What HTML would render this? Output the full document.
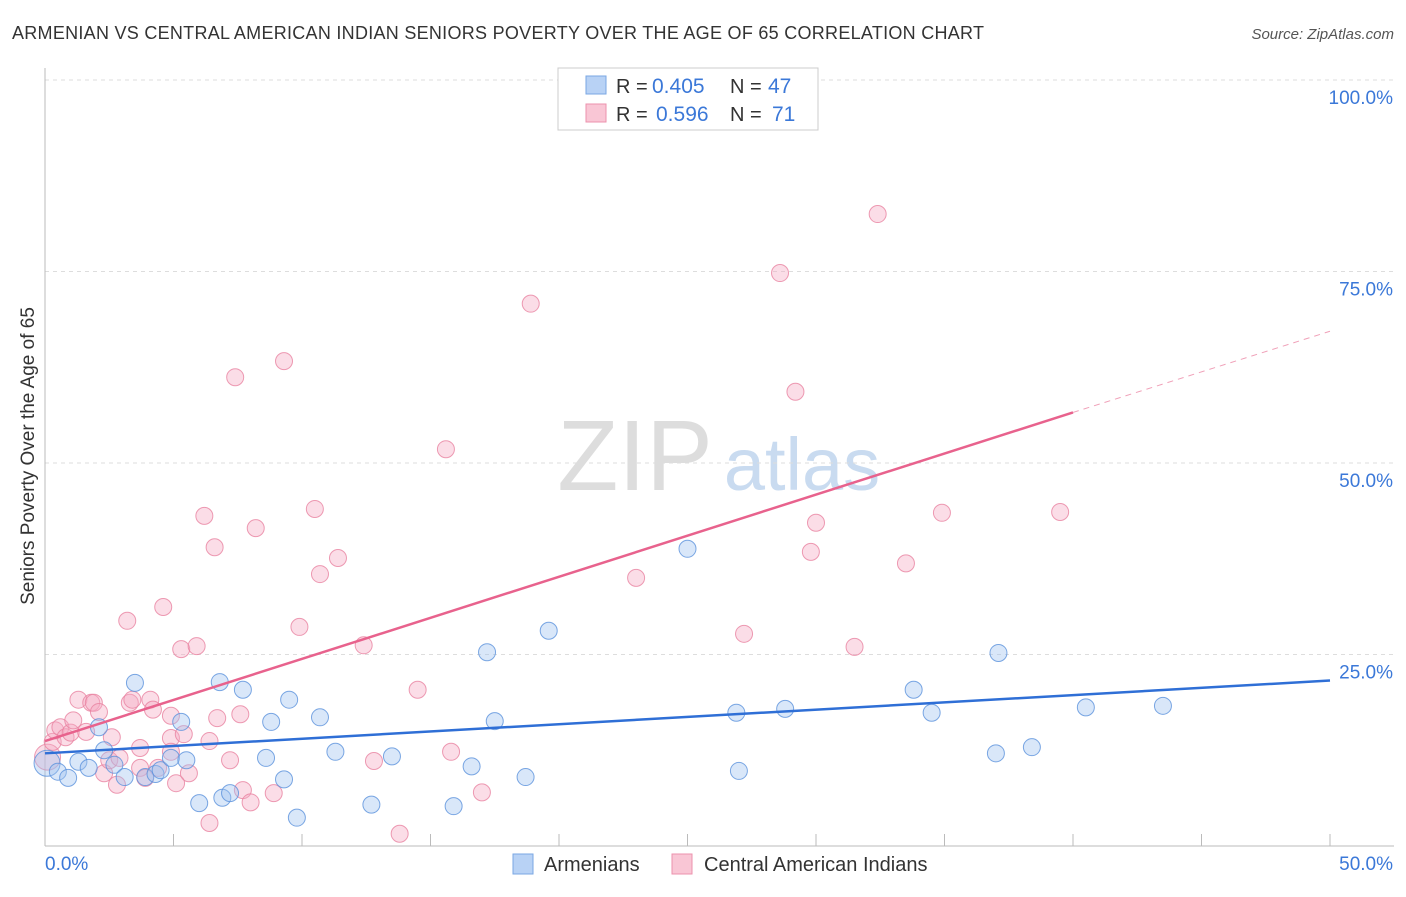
<!DOCTYPE html>
<html><head><meta charset="utf-8"><style>
body{margin:0;background:#fff;font-family:"Liberation Sans",sans-serif;}
svg text{font-family:"Liberation Sans",sans-serif;}
</style></head><body>
<svg id="chart" width="1406" height="892" xmlns="http://www.w3.org/2000/svg">
<text x="12" y="39" font-size="18" fill="#333" textLength="972" lengthAdjust="spacing">ARMENIAN VS CENTRAL AMERICAN INDIAN SENIORS POVERTY OVER THE AGE OF 65 CORRELATION CHART</text>
<text x="1394" y="39" font-size="15" fill="#555" text-anchor="end" font-style="italic">Source: ZipAtlas.com</text>
<text x="0" y="0" font-size="19" fill="#333" text-anchor="middle" transform="translate(34,456) rotate(-90)">Seniors Poverty Over the Age of 65</text>
<g><text x="635" y="490" font-size="100" fill="#ddd" font-family="Liberation Serif" text-anchor="middle">ZIP</text><text x="802" y="490" font-size="74" fill="#c9dbf0" text-anchor="middle">atlas</text></g>
<g id="grid"></g><g id="axes"></g><g id="pts"></g><g id="lines"></g>
<g>
<rect x="558" y="68" width="260" height="62" fill="#fff" stroke="#ccc"/>
<rect x="586" y="76" width="20" height="18" fill="#b8d2f5" stroke="#7aa7e3"/>
<text x="616" y="93" font-size="20" fill="#333">R =</text><text x="652" y="93" font-size="21" fill="#3b78d8">0.405</text>
<text x="730" y="93" font-size="20" fill="#333">N =</text><text x="768" y="93" font-size="21" fill="#3b78d8">47</text>
<rect x="586" y="104" width="20" height="18" fill="#f9c6d5" stroke="#ec92ad"/>
<text x="616" y="121" font-size="20" fill="#333">R =</text><text x="656" y="121" font-size="21" fill="#3b78d8">0.596</text>
<text x="730" y="121" font-size="20" fill="#333">N =</text><text x="772" y="121" font-size="21" fill="#3b78d8">71</text>
</g>
<g>
<rect x="513" y="854" width="20" height="20" fill="#b8d2f5" stroke="#7aa7e3"/>
<text x="544" y="871" font-size="20" fill="#333">Armenians</text>
<rect x="672" y="854" width="20" height="20" fill="#f9c6d5" stroke="#ec92ad"/>
<text x="704" y="871" font-size="20" fill="#333">Central American Indians</text>
</g>
</svg>
<script>
const xTicks=[0,5,10,15,20,25,30,35,40,45,50];
const yTicks=[25,50,75,100];
const yTickLabels=["25.0%","50.0%","75.0%","100.0%"];
const blueX=[0.08,0.5,0.9,1.3,1.7,2.1,2.3,2.7,3.1,3.5,3.9,4.3,4.5,4.9,5.3,5.5,6.0,6.9,6.8,7.2,7.7,8.6,8.8,9.3,9.5,9.8,10.7,11.3,12.7,13.5,15.9,16.6,17.2,17.5,18.7,19.6,25.0,26.9,27.0,28.8,33.8,34.5,37.0,37.1,38.4,40.5,43.5];
const blueY=[10.8,9.7,8.9,11.0,10.2,15.5,12.5,10.6,9.0,21.3,9.0,9.4,9.9,11.5,16.2,11.2,5.6,6.3,21.4,6.9,20.4,11.5,16.2,8.7,19.1,3.7,16.8,12.3,5.4,11.7,5.2,10.4,25.3,16.3,9.0,28.1,38.8,17.4,9.8,17.9,20.4,17.4,12.1,25.2,12.9,18.1,18.3];
const pinkX=[0.1,0.3,0.4,0.6,0.8,1.0,1.1,1.3,1.6,1.8,1.9,2.1,2.3,2.5,2.6,2.8,2.9,3.2,3.3,3.4,3.7,3.7,4.1,4.2,4.4,4.6,4.9,4.9,5.1,5.3,5.4,5.6,5.9,6.2,6.4,6.4,6.6,6.7,7.2,7.4,7.6,7.7,8.0,8.2,8.9,9.3,9.9,10.5,10.7,11.4,12.4,12.8,13.8,14.5,15.6,15.8,17.0,18.9,23.0,27.2,28.6,29.2,29.8,30.0,31.5,32.4,33.5,34.9,39.5,4.9,3.9];
const pinkY=[11.6,13.6,15.1,15.5,14.2,14.8,16.4,19.1,14.9,18.7,18.7,17.5,9.5,11.2,14.2,8.0,11.5,29.4,18.7,19.1,12.8,10.2,19.1,17.8,10.2,31.2,14.1,17.0,8.2,25.7,14.6,9.5,26.1,43.1,3.0,13.7,39.0,16.7,11.2,61.2,17.2,7.3,5.7,41.5,6.9,63.3,28.6,44.0,35.5,37.6,26.2,11.1,1.6,20.4,51.8,12.3,7.0,70.8,35.0,27.7,74.8,59.3,38.4,42.2,26.0,82.5,36.9,43.5,43.6,12.3,8.9];
const blueLine=[[0,12.1],[50,21.6]];
const pinkLine=[[0,13.7],[40,56.6]];
const pinkDash=[[40,56.6],[50,67.2]];
const NS="http://www.w3.org/2000/svg";
const X=v=>45+v*25.7, Y=v=>846-v*7.66;
function mk(t,a,p){const e=document.createElementNS(NS,t);for(const k in a)e.setAttribute(k,a[k]);p.appendChild(e);return e;}
const grid=document.getElementById('grid'),axes=document.getElementById('axes');
yTicks.forEach((t,i)=>{
 const l=mk('line',{x1:45,x2:1394,y1:Y(t),y2:Y(t),stroke:'#ddd','stroke-dasharray':'4,4'},grid);
 
 
 const tx=mk('text',{x:1393,y:Y(t)+24,'font-size':19,fill:'#3b78d8','text-anchor':'end'},axes);
 tx.textContent=yTickLabels[i];
 
 
});
mk('line',{x1:45,x2:1394,y1:Y(0),y2:Y(0),stroke:'#bbb'},axes);
mk('line',{x1:45,x2:45,y1:68,y2:846,stroke:'#bbb'},axes);
xTicks.forEach(t=>{if(t>0){const l=mk('line',{x1:X(t),x2:X(t),y1:834,y2:846,stroke:'#bbb'},axes);
 
 }});
[['0.0%',45,'start'],['50.0%',1393,'end']].forEach(a=>{const t=mk('text',{x:a[1],y:870,'font-size':19,fill:'#3b78d8','text-anchor':a[2]},axes);t.textContent=a[0];
 
 });
const pts=document.getElementById('pts');
pinkX.forEach((x,i)=>{const c=mk('circle',{cx:X(x),cy:Y(pinkY[i]),r:i==0?13:8.5,fill:'rgba(246,170,195,0.4)',stroke:'rgba(232,130,160,0.8)','stroke-width':1},pts);
 
 });
blueX.forEach((x,i)=>{const c=mk('circle',{cx:X(x),cy:Y(blueY[i]),r:i==0?13:8.5,fill:'rgba(160,195,240,0.4)',stroke:'rgba(90,145,220,0.8)','stroke-width':1},pts);
 
 });
const lines=document.getElementById('lines');
const bl=mk('line',{x1:X(blueLine[0][0]),y1:Y(blueLine[0][1]),x2:X(blueLine[1][0]),y2:Y(blueLine[1][1]),stroke:'#2f6fd6','stroke-width':2.5},lines);


const pl=mk('line',{x1:X(pinkLine[0][0]),y1:Y(pinkLine[0][1]),x2:X(pinkLine[1][0]),y2:Y(pinkLine[1][1]),stroke:'#e8628d','stroke-width':2.5},lines);


const pd=mk('line',{x1:X(pinkDash[0][0]),y1:Y(pinkDash[0][1]),x2:X(pinkDash[1][0]),y2:Y(pinkDash[1][1]),stroke:'#f0a0b8','stroke-width':1,'stroke-dasharray':'6,5'},lines);


</script>
</body></html>
